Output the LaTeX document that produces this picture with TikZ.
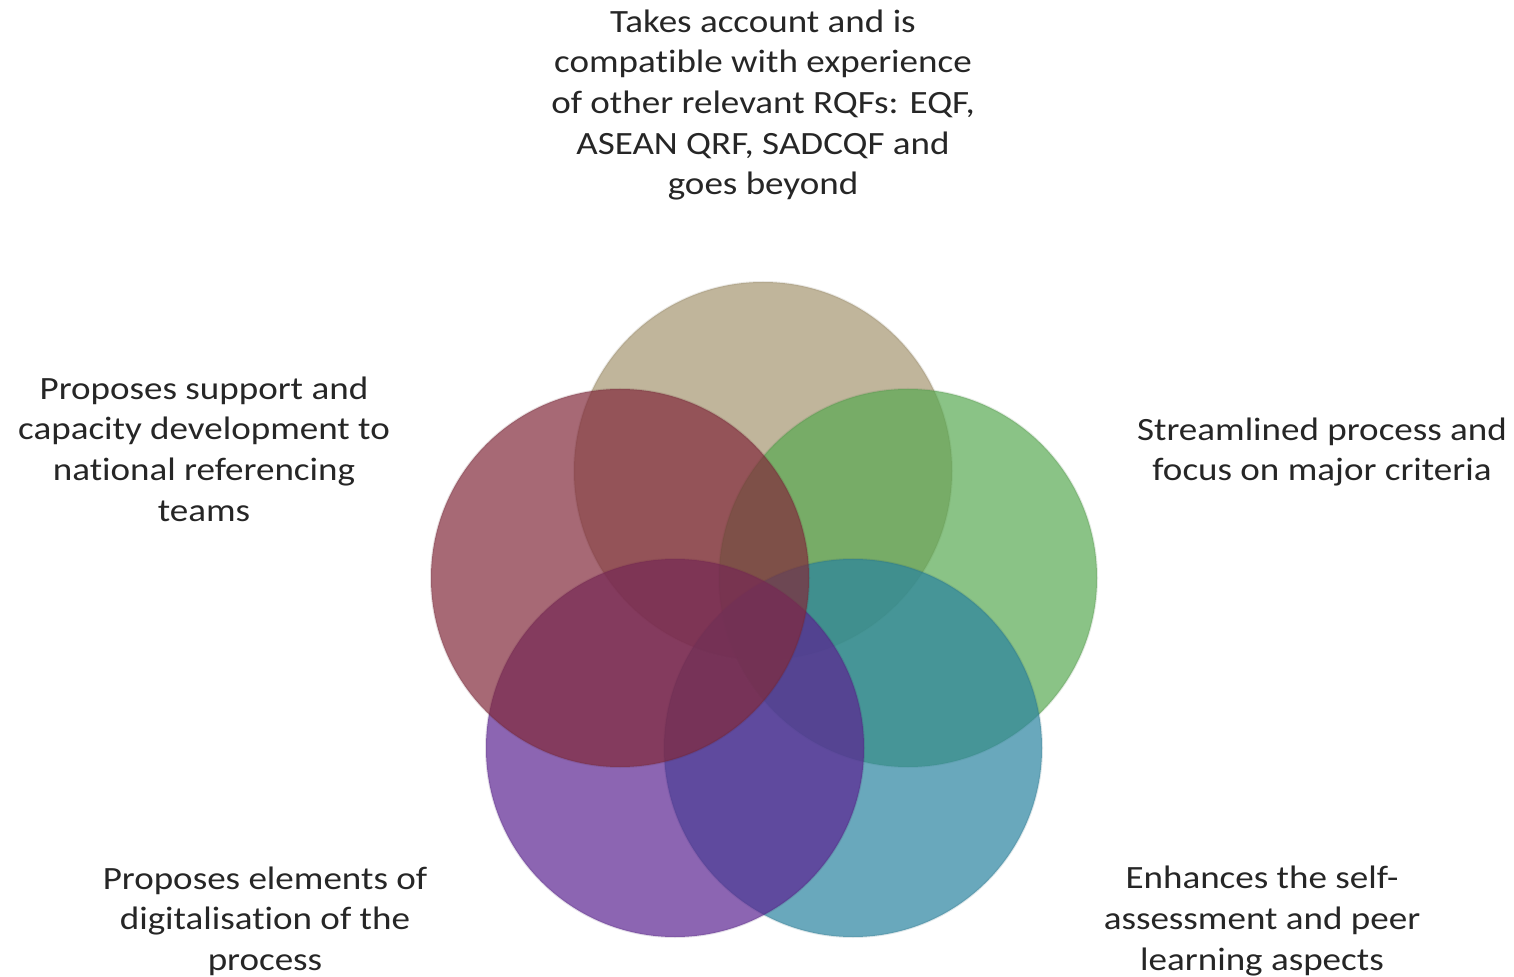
\documentclass[tikz,border=0pt]{standalone}
\usepackage{fontspec}
\setmainfont{Carlito}[FakeStretch=1.14, Ligatures=NoCommon]
\usetikzlibrary{positioning}
\definecolor{vennTan}{RGB}{165,149,112}
\definecolor{vennGreen}{RGB}{89,169,82}
\definecolor{vennTeal}{RGB}{42,131,159}
\definecolor{vennPurple}{RGB}{91,35,145}
\definecolor{vennMaroon}{RGB}{129,42,59}
\definecolor{txtgray}{RGB}{38,38,38}

\begin{document}
\begin{tikzpicture}[x=0.5pt, y=-0.5pt,
    venn/.style={circle, minimum size=189pt, inner sep=0pt, fill=#1, fill opacity=0.7,
        draw=#1!70!black, draw opacity=0.15, line width=1pt},
    label/.style={align=center, inner sep=0pt, text=txtgray,
        font=\fontsize{16.25pt}{20.3pt}\selectfont}]
    \useasboundingbox (0,0) rectangle (1514,977);

    % circles, drawn in SmartArt order
    \node[venn=vennTan] (cTop) at (763,471) {};
    \node[venn=vennGreen] (cRight) at (908,578) {};
    \node[venn=vennTeal] (cLowRight) at (853,748) {};
    \node[venn=vennPurple] (cLowLeft) at (675,748) {};
    \node[venn=vennMaroon] (cLeft) at (620,578) {};

    % labels
    \node[label] (tTop) at (763,105) {Takes account and is\\ compatible with experience\\ of other relevant RQFs: EQF,\\ ASEAN QRF, SADCQF and\\ goes beyond};
    \node[label] (tRight) at (1322,452) {Streamlined process and\\ focus on major criteria};
    \node[label] (tLowRight) at (1262,921) {Enhances the self-\\ assessment and peer\\ learning aspects};
    \node[label] (tLowLeft) at (265,921) {Proposes elements of\\ digitalisation of the\\ process};
    \node[label] (tLeft) at (204,449) {Proposes support and\\ capacity development to\\ national referencing\\ teams};
\end{tikzpicture}
\end{document}
